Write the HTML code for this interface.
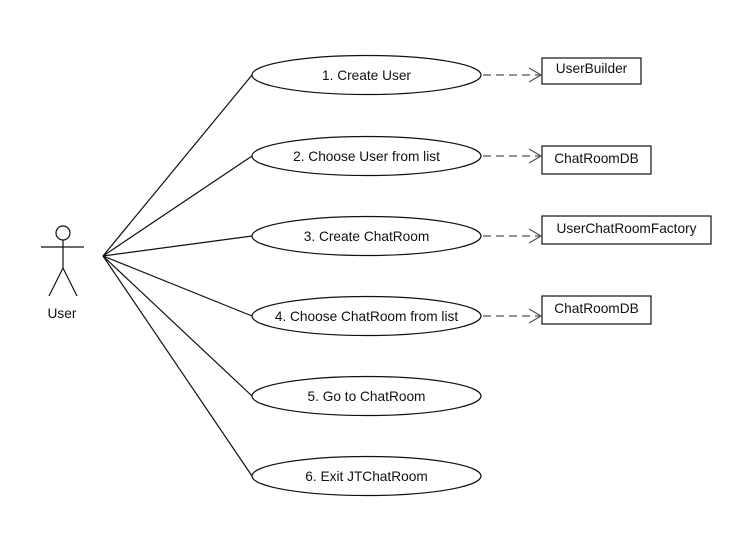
<!DOCTYPE html>
<html><head><meta charset="utf-8"><style>html,body{margin:0;padding:0;background:#fff}svg{display:block}</style></head>
<body>
<svg width="755" height="535" viewBox="0 0 755 535" xmlns="http://www.w3.org/2000/svg" font-family="Liberation Sans, Arial, sans-serif" font-size="13.7">
<rect width="755" height="535" fill="#fff"/>
<g stroke="#111" stroke-width="1.2" fill="none">
<circle cx="63" cy="233" r="7"/>
<line x1="41" y1="247" x2="84" y2="247"/>
<line x1="63" y1="240" x2="63" y2="268"/>
<line x1="63" y1="268" x2="49" y2="296"/>
<line x1="63" y1="268" x2="77" y2="296"/>
<line x1="103" y1="256" x2="252" y2="75"/>
<line x1="103" y1="256" x2="252" y2="156"/>
<line x1="103" y1="256" x2="252" y2="236"/>
<line x1="103" y1="256" x2="252" y2="316"/>
<line x1="103" y1="256" x2="252" y2="396"/>
<line x1="103" y1="256" x2="252" y2="476"/>
<ellipse cx="366.5" cy="75" rx="114.5" ry="19.5"/>
<ellipse cx="366.5" cy="156" rx="114.5" ry="19.5"/>
<ellipse cx="366.5" cy="236" rx="114.5" ry="19.5"/>
<ellipse cx="366.5" cy="316" rx="114.5" ry="19.5"/>
<ellipse cx="366.5" cy="396" rx="114.5" ry="19.5"/>
<ellipse cx="366.5" cy="476" rx="114.5" ry="19.5"/>
<rect x="542" y="58" width="99" height="26"/>
<rect x="542" y="146" width="109" height="28"/>
<rect x="542" y="216" width="169" height="28"/>
<rect x="542" y="296" width="109" height="28"/>
</g>
<g stroke="#555" stroke-width="1.3" fill="none">
<line x1="483" y1="75" x2="541" y2="75" stroke-dasharray="8,5"/>
<polyline points="529,68 541,75 529,82"/>
<line x1="483" y1="156" x2="541" y2="156" stroke-dasharray="8,5"/>
<polyline points="529,149 541,156 529,163"/>
<line x1="483" y1="236" x2="541" y2="236" stroke-dasharray="8,5"/>
<polyline points="529,229 541,236 529,243"/>
<line x1="483" y1="316" x2="541" y2="316" stroke-dasharray="8,5"/>
<polyline points="529,309 541,316 529,323"/>
</g>
<g fill="#111" text-anchor="middle">
<text x="366.5" y="80">1. Create User</text>
<text x="366.5" y="161">2. Choose User from list</text>
<text x="366.5" y="241">3. Create ChatRoom</text>
<text x="366.5" y="321">4. Choose ChatRoom from list</text>
<text x="366.5" y="401">5. Go to ChatRoom</text>
<text x="366.5" y="481">6. Exit JTChatRoom</text>
<text x="591.5" y="73">UserBuilder</text>
<text x="596.5" y="163">ChatRoomDB</text>
<text x="626.5" y="233">UserChatRoomFactory</text>
<text x="596.5" y="313">ChatRoomDB</text>
<text x="62" y="318">User</text>
</g>
</svg>
</body></html>
